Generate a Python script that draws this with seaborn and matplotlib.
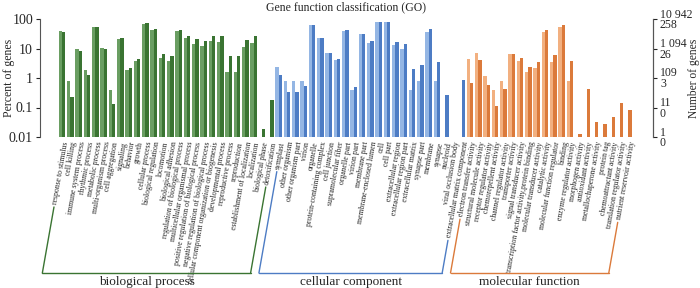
import numpy as np
import pandas as pd
import matplotlib
matplotlib.use('Agg')
import matplotlib.pyplot as plt
from matplotlib.lines import Line2D
import seaborn as sns

# GO terms, three groups
bp_terms = ['response to stimulus', 'cell killing', 'immune system process', 'rhythmic process',
            'metabolic process', 'multi-organism process', 'cell aggregation', 'signaling',
            'behavior', 'growth', 'cellular process', 'biological regulation', 'locomotion',
            'biological adhesion', 'regulation of biological process',
            'multicellular organismal process', 'positive regulation of biological process',
            'negative regulation of biological process',
            'cellular component organization or biogenesis', 'developmental process',
            'reproductive process', 'reproduction', 'establishment of localization',
            'localization', 'biological phase', 'detoxification']
cc_terms = ['symplast', 'other organism', 'other organism part', 'virion', 'organelle',
            'protein-containing complex', 'cell junction', 'supramolecular fiber',
            'organelle part', 'virion part', 'membrane part', 'membrane-enclosed lumen', 'cell',
            'cell part', 'extracellular region', 'extracellular region part',
            'extracellular matrix', 'synapse part', 'membrane', 'synapse', 'nucleoid',
            'viral occlusion body', 'extracellular matrix component']
mf_terms = ['electron transfer activity', 'structural molecule activity',
            'receptor regulator activity', 'chemorepellent activity',
            'channel regulator activity', 'transporter activity', 'signal transducer activity',
            'transcription factor activity,protein binding', 'molecular transducer activity',
            'catalytic activity', 'molecular function regulator', 'binding',
            'enzyme regulator activity', 'morphogen activity', 'antioxidant activity',
            'metallochaperone activity', 'protein tag', 'chemoattractant activity',
            'translation regulator activity', 'nutrient reservoir activity']

nan = np.nan
# percent of genes, light bars (258 genes) and dark bars (10 942 genes)
bp_light = [40.5, 0.78, 9.7, 1.94, 55, 10.4, 0.39, 21, 1.94, 3.88, 68, 41.5, 4.65, 3.88,
            38, 22.5, 14.7, 12.4, 18.6, 17, 1.55, 1.55, 11.2, 15.5, nan, nan]
bp_dark = [37.4, 0.23, 8.4, 1.26, 54, 9.3, 0.136, 23, 2.2, 4.5, 72, 47, 6.3, 5.6,
           43.5, 27.5, 21, 18.5, 26.5, 26, 5.6, 5.4, 20, 25.7, 0.018, 0.18]
cc_light = [2.33, 0.78, 0.78, 0.78, 65, 22.6, 7.1, 4.0, 39, 0.39, 30, 15.3, 77, 77,
            12.8, 9.9, 0.39, 0.78, 36, 0.78, nan, nan, nan]
cc_dark = [1.24, 0.33, 0.33, 0.54, 62, 22.6, 7.3, 4.3, 42, 0.48, 32, 18, 77, 77,
           16.6, 14.6, 2.0, 2.7, 45, 3.4, 0.26, 0.0091, 0.84]
mf_light = [4.26, 7.3, 1.16, 0.39, 0.78, 6.7, 3.7, 1.55, 2.2, 36, 3.5, 53, 0.78,
            nan, nan, nan, nan, nan, nan, nan]
mf_dark = [0.7, 4.2, 0.57, 0.115, 0.44, 6.7, 4.9, 2.37, 3.5, 43.5, 5.9, 65, 3.8,
           0.013, 0.44, 0.033, 0.027, 0.049, 0.137, 0.081]

group_names = ['biological process', 'cellular component', 'molecular function']
group_colors = [('#6a9e62', '#3a7432'), ('#94b6e4', '#4d7cc4'), ('#f2b080', '#db7a3b')]
right_labels = ['1\n0', '11\n0', '109\n3', '1 094\n26', '10 942\n258']

groups = [(bp_terms, bp_light, bp_dark), (cc_terms, cc_light, cc_dark), (mf_terms, mf_light, mf_dark)]
all_terms = bp_terms + cc_terms + mf_terms

sns.set_style('ticks')
plt.rcParams['font.family'] = ['Liberation Serif', 'DejaVu Serif']

W, H = 700, 288
fig = plt.figure(figsize=(W / 100, H / 100), dpi=100)
ax = fig.add_axes([40 / W, 1 - 137 / H, 613 / W, 118 / H])
ax.set_yscale('log')

for (terms, light, dark), name, cols in zip(groups, group_names, group_colors):
    d = pd.DataFrame({'term': terms * 2,
                      'pct': light + dark,
                      'set': ['light'] * len(terms) + ['dark'] * len(terms)})
    d = d.dropna()
    sns.barplot(data=d, x='term', y='pct', hue='set', hue_order=['light', 'dark'],
                order=all_terms, palette=list(cols), width=0.8, legend=False,
                ax=ax, saturation=1, linewidth=0)

ax.set_ylim(0.01, 100)
ax.set_xlim(-2.64, 70.95)
ax.set_yticks([0.01, 0.1, 1, 10, 100])
ax.set_yticklabels(['0.01', '0.1', '1', '10', '100'], fontsize=10)
ax.minorticks_off()
ax.tick_params(axis='y', direction='out', length=3, width=0.8, pad=2)
ax.set_xticks(range(len(all_terms)))
ax.set_xticklabels(all_terms, rotation=80, ha='right', va='top',
                   rotation_mode='anchor', fontsize=5.6)
ax.tick_params(axis='x', length=0, pad=3)
ax.set_xlabel('')
ax.set_ylabel('Percent of genes', fontsize=8.5)
ax.yaxis.set_label_coords((15 - 40) / 613, 0.5)
for s in ['top', 'bottom']:
    ax.spines[s].set_visible(False)
for s in ['left', 'right']:
    ax.spines[s].set_color('#555555')
    ax.spines[s].set_linewidth(0.8)
ax.set_title('Gene function classification (GO)', fontsize=8.5, pad=6)

ax2 = ax.twinx()
ax2.set_yscale('log')
ax2.set_ylim(0.01, 100)
ax2.set_yticks([0.01, 0.1, 1, 10, 100])
ax2.set_yticklabels(right_labels, fontsize=8.5, linespacing=0.85)
ax2.minorticks_off()
ax2.tick_params(axis='y', direction='out', length=3, width=0.8, pad=2)
ax2.set_ylabel('Number of genes', fontsize=8.3)
ax2.yaxis.set_label_coords((688 - 40) / 613, 0.5)
for s in ['top', 'bottom', 'left']:
    ax2.spines[s].set_visible(False)
ax2.spines['right'].set_color('#555555')
ax2.spines['right'].set_linewidth(0.8)

# brackets under the tick labels, one per group
fig.canvas.draw()
renderer = fig.canvas.get_renderer()
labels = ax.get_xticklabels()
base_y = H - 273
tan_a = np.tan(np.radians(80))
start = 0
for (terms, _, _), name, cols in zip(groups, group_names, group_colors):
    ends = []
    for idx in [start, start + len(terms) - 1]:
        bb = labels[idx].get_window_extent(renderer)
        xe, ye = bb.x0 + 3, bb.y0 - 2
        xb = xe - (ye - base_y) / tan_a
        fig.add_artist(Line2D([xe / W, xb / W], [ye / H, base_y / H],
                              transform=fig.transFigure, color=cols[1], lw=1))
        ends.append(xb)
    fig.add_artist(Line2D([ends[0] / W, ends[1] / W], [base_y / H, base_y / H],
                          transform=fig.transFigure, color=cols[1], lw=1))
    fig.text((ends[0] + ends[1]) / 2 / W, 12 / H, name, ha='center', va='top', fontsize=9.5)
    start += len(terms)

fig.savefig('out.png', dpi=100)
